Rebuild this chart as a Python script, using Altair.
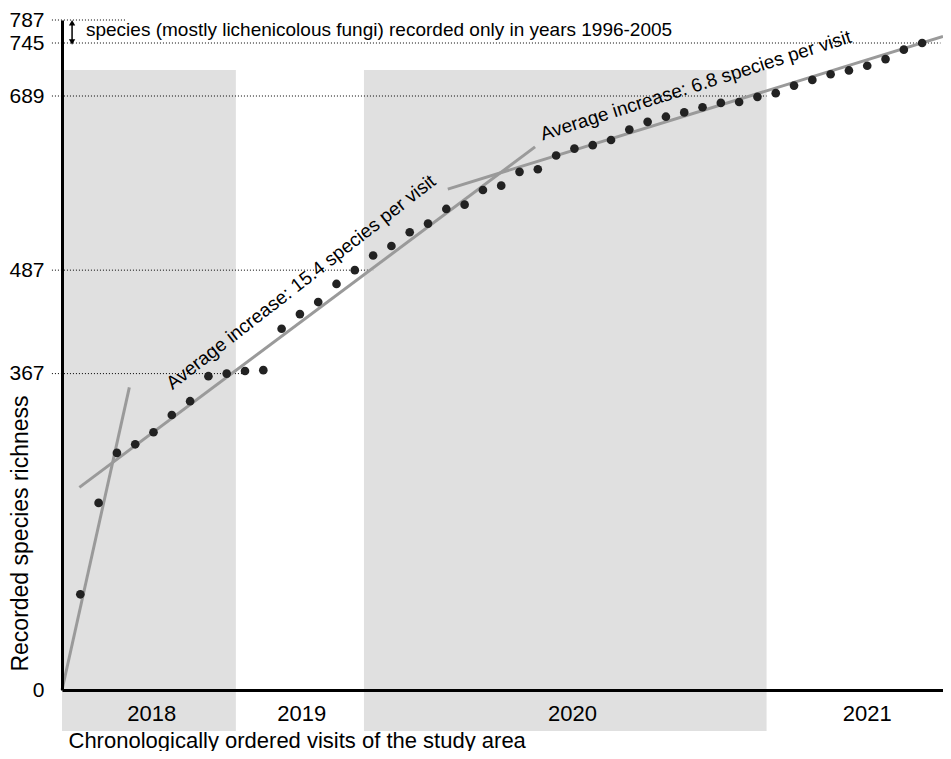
import altair as alt
import pandas as pd

# ---- data ----
visits = list(range(1, 48))
richness = [111, 217, 275, 285, 299, 319, 335, 364, 367, 370, 371, 419, 436, 450, 471,
            487, 504, 515, 531, 541, 558, 563, 580, 585, 601, 604, 620, 628, 632, 638,
            650, 659, 665, 670, 676, 681, 682, 688, 692, 700, 706, 712, 716, 721, 728,
            738, 745]

tick_values = [0, 367, 487, 689, 745, 787]
guide_values = [367, 487, 689, 745, 787]
guide_end = [10, 17, 38.5, 48, 3.5]

years = ["2018", "2019", "2020", "2021"]
year_center = [4.9, 13.1, 27.9, 44.0]
shade_start = [0, 16.5]
shade_end = [9.5, 38.5]

trend_id = ["a", "a", "b", "b", "c", "c"]
trend_x = [0, 3.68, 0.95, 25.85, 21.08, 48.14]
trend_y = [0, 351, 235, 630, 581, 757]

label1_text = ["Average increase: 15.4 species per visit"]
label1_x = [13.06]
label1_y = [473]
label2_text = ["Average increase: 6.8 species per visit"]
label2_x = [34.63]
label2_y = [700]

note_text = ["species (mostly lichenicolous fungi) recorded only in years 1996-2005"]
note_x = [1.31]
note_y = [769]
arrow_x = [0.55]
arrow_top = [782]
arrow_bottom = [747]

# ---- tables ----
pts = pd.DataFrame({"visit": visits, "richness": richness})
guides = pd.DataFrame({"v": guide_values, "end": guide_end})
yl = pd.DataFrame({"year": years, "x": year_center})
shade = pd.DataFrame({"s": shade_start, "e": shade_end})
trend = pd.DataFrame({"id": trend_id, "x": trend_x, "y": trend_y})
l1 = pd.DataFrame({"t": label1_text, "x": label1_x, "y": label1_y})
l2 = pd.DataFrame({"t": label2_text, "x": label2_x, "y": label2_y})
note = pd.DataFrame({"t": note_text, "x": note_x, "y": note_y})
arrow = pd.DataFrame({"x": arrow_x, "top": arrow_top, "bottom": arrow_bottom})

W, H = 881, 670
xscale = alt.Scale(domain=[0, 48.14], nice=False, zero=False)
yscale = alt.Scale(domain=[0, 689, 745, 787], range=[H, 76, 23, 0], nice=False)

X = lambda f: alt.X(f, type="quantitative", scale=xscale,
                    axis=alt.Axis(labels=False, ticks=False, grid=False, domainColor="black",
                                  domainWidth=3, zindex=2,
                                  title="Chronologically ordered visits of the study area",
                                  titleFontSize=22, titleFontWeight="normal", titleColor="black",
                                  titleX=6, titleY=57, titleAlign="left", titleBaseline="alphabetic"))
Y = lambda f: alt.Y(f, type="quantitative", scale=yscale,
                    axis=alt.Axis(values=tick_values, ticks=False, tickSize=0, grid=False,
                                  domainColor="black", domainWidth=3, zindex=2, labelFontSize=21,
                                  labelColor="black", labelPadding=18, labelFlush=False,
                                  labelOverlap=False,
                                  title="Recorded species richness", titleFontSize=23,
                                  titleFontWeight="normal", titleColor="black",
                                  titleX=-42, titleY=513, titleAlign="center",
                                  titleBaseline="middle", titleAngle=270))

base = alt.Chart(pts)

rects = alt.Chart(shade).mark_rect(color="#e0e0e0").encode(
    x=X("s"), x2="e", y=alt.value(50), y2=alt.value(711))

years_txt = alt.Chart(yl).mark_text(fontSize=22, color="black", baseline="middle").encode(
    x=X("x"), y=alt.value(694), text="year:N")

guide_rules = alt.Chart(guides).transform_calculate(start="-0.55").mark_rule(
    color="black", strokeWidth=1, strokeDash=[1, 2]).encode(
    x=X("start"), x2="end", y=Y("v"))

trend_lines = alt.Chart(trend).mark_line(color="#9a9a9a", strokeWidth=3).encode(
    x=X("x"), y=Y("y"), detail="id:N")

points = base.mark_circle(color="#222222", opacity=1, size=75).encode(
    x=X("visit"), y=Y("richness"))

t1 = alt.Chart(l1).mark_text(fontSize=19, angle=322, color="black", baseline="middle",
                             align="center").encode(x=X("x"), y=Y("y"), text="t:N")
t2 = alt.Chart(l2).mark_text(fontSize=19, angle=342.4, color="black", baseline="middle",
                             align="center").encode(x=X("x"), y=Y("y"), text="t:N")

note_txt = alt.Chart(note).mark_text(fontSize=19, color="black", align="left",
                                     baseline="middle").encode(x=X("x"), y=Y("y"), text="t:N")
arrow_rule = alt.Chart(arrow).mark_rule(color="black", strokeWidth=1.5).encode(
    x=X("x"), y=Y("top"), y2="bottom")
arrow_up = alt.Chart(arrow).mark_point(shape="triangle-up", filled=True, color="black",
                                       size=40, opacity=1).encode(x=X("x"), y=Y("top"))
arrow_down = alt.Chart(arrow).mark_point(shape="triangle-down", filled=True, color="black",
                                         size=40, opacity=1).encode(x=X("x"), y=Y("bottom"))

chart = alt.layer(rects, years_txt, guide_rules, trend_lines, points, t1, t2,
                  note_txt, arrow_rule, arrow_up, arrow_down).properties(
    width=W, height=H,
    autosize=alt.AutoSizeParams(type="none"),
    padding={"left": 54, "top": 12, "right": 0, "bottom": 61},
).configure(font="Liberation Sans").configure_view(stroke=None)

chart.save("out.html", embed_options={"renderer": "svg", "actions": False})
